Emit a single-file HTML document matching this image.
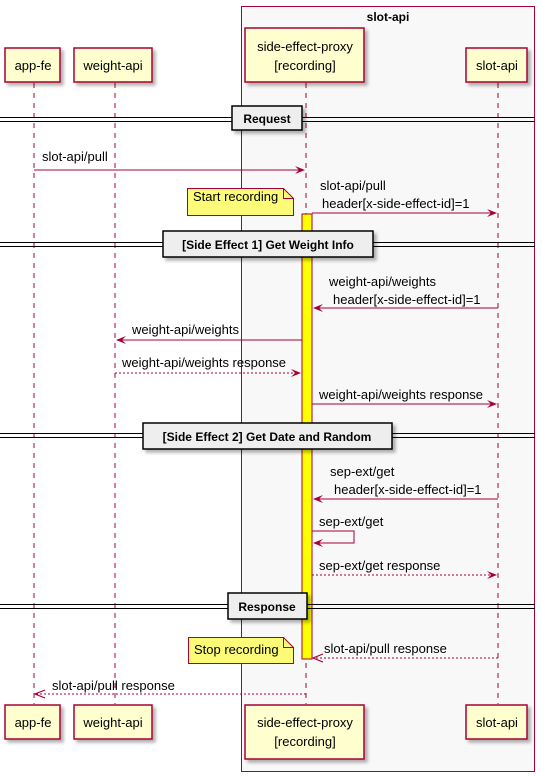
<!DOCTYPE html>
<html><head><meta charset="utf-8"><style>
html,body{margin:0;padding:0;background:#fff}
svg{display:block;font-family:"Liberation Sans",sans-serif}
</style></head><body>
<svg width="542" height="777" viewBox="0 0 542 777" xmlns="http://www.w3.org/2000/svg">
<defs>
<filter id="sh" x="-10%" y="-10%" width="130%" height="140%"><feDropShadow dx="3" dy="3" stdDeviation="1.5" flood-color="#000" flood-opacity="0.3"/></filter>
</defs>
<rect x="241.5" y="6.5" width="293" height="765" fill="#f8f8f8" stroke="#a80036" stroke-width="1"/>
<text x="388" y="21" font-size="12" font-weight="bold" text-anchor="middle">slot-api</text>
<g stroke="#a80036" stroke-width="1" stroke-dasharray="5,5">
<line x1="34" y1="83" x2="34" y2="704"/>
<line x1="115" y1="83" x2="115" y2="704"/>
<line x1="306" y1="83" x2="306" y2="704"/>
<line x1="498" y1="83" x2="498" y2="704"/>
</g>
<g fill="#fefece" stroke="#a80036" stroke-width="1.5" filter="url(#sh)">
<rect x="5" y="48" width="55" height="34"/>
<rect x="74" y="48" width="78" height="34"/>
<rect x="245" y="28" width="119" height="54"/>
<rect x="466" y="48" width="61" height="34"/>
<rect x="5" y="705" width="55" height="34"/>
<rect x="74" y="705" width="78" height="34"/>
<rect x="245" y="705" width="119" height="54"/>
<rect x="466" y="705" width="61" height="34"/>
</g>
<g font-size="13" text-anchor="middle" fill="#000">
<text x="33" y="70">app-fe</text>
<text x="113" y="70">weight-api</text>
<text x="305" y="51">side-effect-proxy</text>
<text x="305" y="70">[recording]</text>
<text x="497" y="70">slot-api</text>
<text x="33" y="727">app-fe</text>
<text x="113" y="727">weight-api</text>
<text x="305" y="727">side-effect-proxy</text>
<text x="305" y="746">[recording]</text>
<text x="497" y="727">slot-api</text>
</g>
<rect x="302" y="214" width="10" height="445" fill="#ffff00" stroke="#a80036" stroke-width="1"/>
<g stroke="#000" stroke-width="1">
<line x1="0" y1="117.5" x2="535" y2="117.5"/><line x1="0" y1="121.5" x2="535" y2="121.5"/>
<line x1="0" y1="242.5" x2="535" y2="242.5"/><line x1="0" y1="246.5" x2="535" y2="246.5"/>
<line x1="0" y1="433.5" x2="535" y2="433.5"/><line x1="0" y1="437.5" x2="535" y2="437.5"/>
<line x1="0" y1="604.5" x2="535" y2="604.5"/><line x1="0" y1="608.5" x2="535" y2="608.5"/>
</g>
<g fill="#eeeeee" stroke="#000" stroke-width="1.5" filter="url(#sh)">
<rect x="232" y="106" width="70" height="24"/>
<rect x="163" y="231" width="210" height="26"/>
<rect x="143" y="423" width="249" height="26"/>
<rect x="228" y="593" width="79" height="26"/>
</g>
<g font-size="12" font-weight="bold" text-anchor="middle">
<text x="267" y="123">Request</text>
<text x="268" y="249">[Side Effect 1] Get Weight Info</text>
<text x="267" y="441">[Side Effect 2] Get Date and Random</text>
<text x="267" y="611">Response</text>
</g>
<g fill="#fbfb77" stroke="#a80036" stroke-width="1">
<path d="M187.5 188.5 H283.5 L293.5 198.5 V215.5 H187.5 Z"/>
<path d="M283.5 188.5 V198.5 H293.5" fill="none"/>
<path d="M188.5 637.5 H283.5 L293.5 647.5 V663.5 H188.5 Z"/>
<path d="M283.5 637.5 V647.5 H293.5" fill="none"/>
</g>
<g font-size="13" fill="#000">
<text x="193" y="201">Start recording</text>
<text x="194" y="654">Stop recording</text>
</g>
<g stroke="#a80036" stroke-width="1" fill="none">
<line x1="34" y1="170" x2="304" y2="170"/>
<line x1="312" y1="213" x2="496" y2="213"/>
<line x1="498" y1="308" x2="314" y2="308"/>
<line x1="302" y1="340" x2="117" y2="340"/>
<line x1="115" y1="373" x2="300" y2="373" stroke-dasharray="2,2"/>
<line x1="312" y1="404" x2="496" y2="404"/>
<line x1="498" y1="499" x2="314" y2="499"/>
<polyline points="312,531 354,531 354,543 314,543"/>
<line x1="312" y1="575" x2="496" y2="575" stroke-dasharray="2,2"/>
<line x1="498" y1="658" x2="314" y2="658" stroke-dasharray="2,2"/>
<line x1="306" y1="694" x2="36" y2="694" stroke-dasharray="2,2"/>
</g>
<g fill="#a80036">
<path d="M305 170 l-10 -4 4 4 -4 4z"/>
<path d="M497 213 l-10 -4 4 4 -4 4z"/>
<path d="M313 308 l10 -4 -4 4 4 4z"/>
<path d="M116 340 l10 -4 -4 4 4 4z"/>
<path d="M301 373 l-10 -4 4 4 -4 4z"/>
<path d="M497 404 l-10 -4 4 4 -4 4z"/>
<path d="M313 499 l10 -4 -4 4 4 4z"/>
<path d="M313 543 l10 -4 -4 4 4 4z"/>
<path d="M497 575 l-10 -4 4 4 -4 4z"/>
</g>
<g stroke="#a80036" stroke-width="1.2" fill="none">
<polyline points="323,654 313,658 323,662"/>
<polyline points="45,690 35,694 45,698"/>
</g>
<g font-size="13" fill="#000">
<text x="42" y="161">slot-api/pull</text>
<text x="320" y="190">slot-api/pull</text>
<text x="322" y="208">header[x-side-effect-id]=1</text>
<text x="329" y="286">weight-api/weights</text>
<text x="333" y="304">header[x-side-effect-id]=1</text>
<text x="132" y="334">weight-api/weights</text>
<text x="122" y="367">weight-api/weights response</text>
<text x="319" y="399">weight-api/weights response</text>
<text x="330" y="476">sep-ext/get</text>
<text x="334" y="494">header[x-side-effect-id]=1</text>
<text x="319" y="526">sep-ext/get</text>
<text x="319" y="570">sep-ext/get response</text>
<text x="324" y="653">slot-api/pull response</text>
<text x="52" y="690">slot-api/pull response</text>
</g>
</svg>
</body></html>
